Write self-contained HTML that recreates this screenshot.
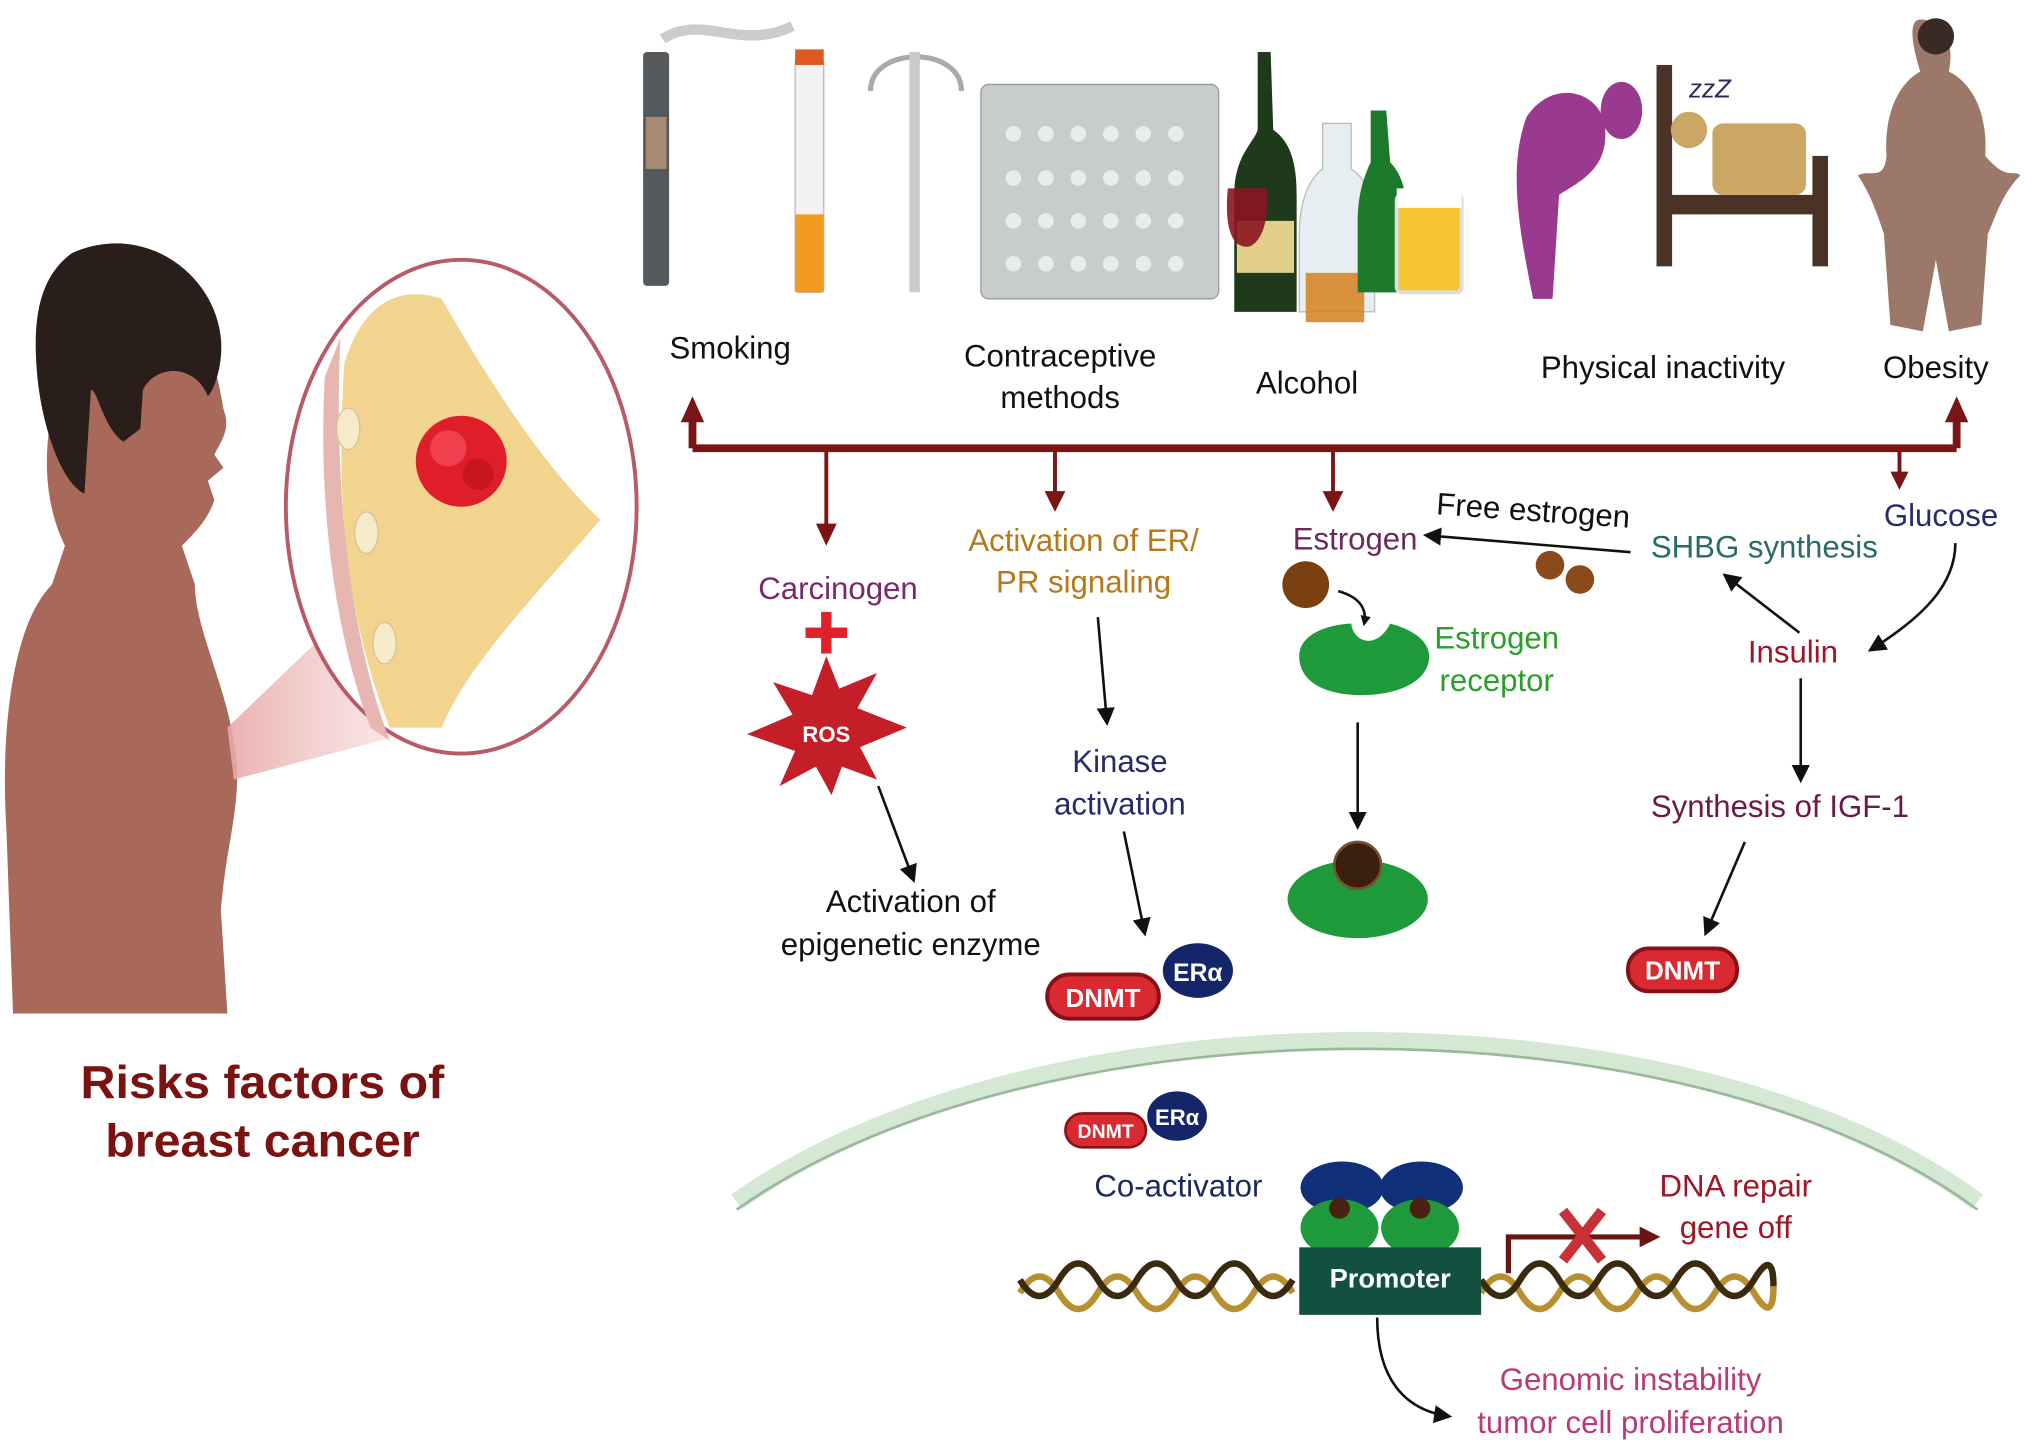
<!DOCTYPE html>
<html><head><meta charset="utf-8"><style>
html,body{margin:0;padding:0;background:#fff;}
svg{display:block;}
text{font-family:"Liberation Sans",sans-serif;}
</style></head><body>
<svg width="2032" height="1450" viewBox="0 0 1564 1116" preserveAspectRatio="none" xmlns="http://www.w3.org/2000/svg">
<defs>
<marker id="ar" markerWidth="8" markerHeight="8" refX="6" refY="4" orient="auto" markerUnits="userSpaceOnUse"><path d="M0,0 L8,4 L0,8 Z" fill="#111"/></marker>
<marker id="ar2" viewBox="0 0 10 10" markerWidth="14" markerHeight="14" refX="8" refY="5" orient="auto" markerUnits="userSpaceOnUse"><path d="M0,0 L10,5 L0,10 Z" fill="#111"/></marker>
<linearGradient id="cone" x1="0" x2="1"><stop offset="0" stop-color="#e9a8a8" stop-opacity="0.9"/><stop offset="1" stop-color="#f6d6d6" stop-opacity="0.4"/></linearGradient>
</defs>
<!-- woman -->
<path d="M60,260 C30,320 30,380 50,420 L40,450 C10,480 0,560 5,640 L10,780 L175,780 L170,700 C175,640 190,610 178,560 C170,520 150,480 150,450 L140,420 C150,410 160,400 165,385 L160,370 L172,360 L165,350 C170,340 178,330 172,315 C168,290 160,260 150,240 Z" fill="#a8695a"/>
<path d="M55,195 C110,170 165,210 170,260 C172,280 165,300 160,305 C150,280 120,280 110,300 L108,330 L95,340 C80,330 75,300 70,300 L65,380 C45,370 30,320 28,280 C25,235 35,210 55,195 Z" fill="#2a1e1a"/>
<path d="M175,560 L300,440 L330,560 L180,600 Z" fill="url(#cone)"/>
<ellipse cx="355" cy="390" rx="135" ry="190" fill="#fff" stroke="#b85a68" stroke-width="3"/>
<path d="M265,280 C260,360 260,460 300,560 L340,560 C360,510 420,450 462,400 C420,360 380,300 340,230 C310,220 280,230 265,280 Z" fill="#f3d48e"/>
<path d="M250,290 L262,260 C258,340 262,470 300,570 L285,560 C255,480 245,380 250,290 Z" fill="#e8b6b0"/>
<ellipse cx="268" cy="330" rx="9" ry="16" fill="#f6eac8" stroke="#d6c29a"/>
<ellipse cx="282" cy="410" rx="9" ry="16" fill="#f6eac8" stroke="#d6c29a"/>
<ellipse cx="296" cy="495" rx="9" ry="16" fill="#f6eac8" stroke="#d6c29a"/>
<circle cx="355" cy="355" r="35" fill="#e01e2a"/>
<circle cx="345" cy="345" r="14" fill="#f04050"/><circle cx="368" cy="365" r="12" fill="#c81520"/>
<text x="202" y="845" font-size="36" font-weight="bold" fill="#7a1212" text-anchor="middle" textLength="280" lengthAdjust="spacingAndGlyphs">Risks factors of</text>
<text x="202" y="890" font-size="36" font-weight="bold" fill="#7a1212" text-anchor="middle" textLength="242" lengthAdjust="spacingAndGlyphs">breast cancer</text>
<!-- top icons -->
<rect x="495" y="40" width="20" height="180" rx="3" fill="#55595c"/><rect x="497" y="90" width="16" height="40" fill="#c9a07a" opacity="0.7"/>
<rect x="612" y="45" width="22" height="180" rx="3" fill="#f2f2f2" stroke="#bbb"/><rect x="612" y="165" width="22" height="60" fill="#f39a22"/><rect x="612" y="38" width="22" height="12" fill="#e05a20"/>
<path d="M510,30 C540,10 570,40 610,20" stroke="#ccc" stroke-width="8" fill="none"/>
<path d="M670,70 C670,35 740,35 740,70" stroke="#aaa" stroke-width="4" fill="none"/><rect x="700" y="40" width="8" height="185" fill="#c8cacc"/>
<rect x="755" y="65" width="183" height="165" rx="6" fill="#c7cccd" stroke="#999"/>
<g fill="#e8ecec">
<circle cx="780" cy="103" r="6"/><circle cx="805" cy="103" r="6"/><circle cx="830" cy="103" r="6"/><circle cx="855" cy="103" r="6"/><circle cx="880" cy="103" r="6"/><circle cx="905" cy="103" r="6"/>
<circle cx="780" cy="137" r="6"/><circle cx="805" cy="137" r="6"/><circle cx="830" cy="137" r="6"/><circle cx="855" cy="137" r="6"/><circle cx="880" cy="137" r="6"/><circle cx="905" cy="137" r="6"/>
<circle cx="780" cy="170" r="6"/><circle cx="805" cy="170" r="6"/><circle cx="830" cy="170" r="6"/><circle cx="855" cy="170" r="6"/><circle cx="880" cy="170" r="6"/><circle cx="905" cy="170" r="6"/>
<circle cx="780" cy="203" r="6"/><circle cx="805" cy="203" r="6"/><circle cx="830" cy="203" r="6"/><circle cx="855" cy="203" r="6"/><circle cx="880" cy="203" r="6"/><circle cx="905" cy="203" r="6"/>
</g>
<path d="M968,40 L978,40 L980,100 C995,110 998,130 998,150 L998,240 L950,240 L950,150 C950,120 965,110 968,100 Z" fill="#1e3a1a"/>
<rect x="952" y="170" width="44" height="40" fill="#e2d08a"/>
<path d="M945,145 L975,145 C978,180 965,190 960,190 C950,190 942,180 945,145 Z" fill="#8a1520" opacity="0.9"/>
<path d="M1018,95 L1040,95 L1040,130 C1055,140 1058,160 1058,180 L1058,240 L1000,240 L1000,180 C1000,160 1005,140 1018,130 Z" fill="#e6eef2" stroke="#bbb"/>
<rect x="1005" y="210" width="45" height="38" fill="#d6801e" opacity="0.85"/>
<path d="M1055,85 L1067,85 L1070,125 C1080,135 1083,150 1083,170 L1083,225 L1045,225 L1045,170 C1045,150 1050,135 1055,125 Z" fill="#1d7a2c"/>
<rect x="1075" y="150" width="50" height="75" rx="4" fill="#f7c531" stroke="#ddd" stroke-width="3"/><rect x="1075" y="145" width="50" height="15" fill="#fff"/>
<path d="M1175,90 C1195,60 1230,70 1235,95 C1240,130 1215,140 1200,150 L1195,230 L1180,230 C1170,180 1160,130 1175,90 Z" fill="#9a3a8e"/>
<ellipse cx="1248" cy="85" rx="16" ry="22" fill="#9a3a8e"/>
<rect x="1275" y="50" width="12" height="155" fill="#4a3226"/><rect x="1395" y="120" width="12" height="85" fill="#4a3226"/>
<rect x="1285" y="150" width="115" height="15" fill="#4a3226"/><rect x="1318" y="95" width="72" height="55" rx="8" fill="#cba766"/><circle cx="1300" cy="100" r="14" fill="#cba766"/>
<text x="1300" y="75" font-size="20" fill="#2a2a5a" font-style="italic">zzZ</text>
<path d="M1478,15 C1495,15 1505,30 1500,55 C1520,65 1530,90 1528,120 C1545,140 1550,130 1555,135 C1540,150 1535,170 1530,180 L1525,250 L1500,255 L1490,200 L1480,255 L1455,250 L1450,180 C1445,165 1440,150 1430,135 C1440,130 1450,140 1452,120 C1450,90 1460,65 1478,55 C1470,30 1470,15 1478,15 Z" fill="#9c7868"/>
<circle cx="1490" cy="28" r="14" fill="#3a2a25"/>
<g font-size="24" fill="#111" text-anchor="middle">
<text x="562" y="276">Smoking</text>
<text x="816" y="282">Contraceptive</text><text x="816" y="314">methods</text>
<text x="1006" y="303">Alcohol</text>
<text x="1280" y="291">Physical inactivity</text>
<text x="1490" y="291">Obesity</text>
</g>
<!-- bar -->
<g stroke="#7a1515" stroke-width="6" fill="#7a1515">
<line x1="533" y1="345" x2="1506" y2="345"/>
<line x1="533" y1="345" x2="533" y2="322"/><line x1="1506" y1="345" x2="1506" y2="322"/>
<line x1="636" y1="345" x2="636" y2="405" stroke-width="3"/><line x1="812" y1="345" x2="812" y2="380" stroke-width="3"/>
<line x1="1026" y1="345" x2="1026" y2="380" stroke-width="3"/><line x1="1462" y1="345" x2="1462" y2="365" stroke-width="3"/>
</g>
<g fill="#7a1515">
<path d="M524,325 L533,305 L542,325 Z"/><path d="M1497,325 L1506,305 L1515,325 Z"/>
<path d="M628,403 L636,420 L644,403 Z"/><path d="M804,378 L812,394 L820,378 Z"/><path d="M1018,378 L1026,394 L1034,378 Z"/><path d="M1455,363 L1462,377 L1469,363 Z"/>
</g>
<!-- column 1 -->
<text x="645" y="461" font-size="24" fill="#7a2a6a" text-anchor="middle">Carcinogen</text>
<rect x="620" y="483" width="32" height="8" fill="#e0202a"/><rect x="632" y="471" width="8" height="32" fill="#e0202a"/>
<path d="M636,505 L646,530 L675,518 L660,545 L698,560 L662,575 L675,600 L648,590 L640,612 L628,590 L600,605 L612,578 L575,565 L610,550 L595,525 L625,535 Z" fill="#c41e28"/>
<text x="636" y="571" font-size="17" font-weight="bold" fill="#fff" text-anchor="middle">ROS</text>
<path d="M676,605 L703,677" stroke="#111" stroke-width="2" fill="none" marker-end="url(#ar2)"/>
<text x="701" y="702" font-size="24" fill="#111" text-anchor="middle">Activation of</text>
<text x="701" y="735" font-size="24" fill="#111" text-anchor="middle">epigenetic enzyme</text>
<!-- column 2 -->
<text x="834" y="424" font-size="24" fill="#b5781a" text-anchor="middle">Activation of ER/</text>
<text x="834" y="456" font-size="24" fill="#b5781a" text-anchor="middle">PR signaling</text>
<path d="M845,475 L852,556" stroke="#111" stroke-width="2" fill="none" marker-end="url(#ar2)"/>
<text x="862" y="594" font-size="24" fill="#2a2a6a" text-anchor="middle">Kinase</text>
<text x="862" y="627" font-size="24" fill="#2a2a6a" text-anchor="middle">activation</text>
<path d="M865,640 L881,718" stroke="#111" stroke-width="2" fill="none" marker-end="url(#ar2)"/>
<rect x="806" y="750" width="86" height="34" rx="17" fill="#d82a30" stroke="#8a1018" stroke-width="3"/>
<text x="849" y="775" font-size="20" font-weight="bold" fill="#fff" text-anchor="middle">DNMT</text>
<ellipse cx="922" cy="747" rx="27" ry="21" fill="#15256a"/><text x="922" y="755" font-size="19" font-weight="bold" fill="#fff" text-anchor="middle">ERα</text>
<!-- column 3 -->
<text x="1043" y="423" font-size="24" fill="#6a2a5a" text-anchor="middle">Estrogen</text>
<text x="1180" y="401" font-size="24" fill="#111" text-anchor="middle" transform="rotate(4 1180 395)">Free estrogen</text>
<path d="M1255,425 L1098,412" stroke="#111" stroke-width="2" fill="none" marker-end="url(#ar2)"/>
<circle cx="1193" cy="435" r="11" fill="#8a4a1a"/><circle cx="1216" cy="446" r="11" fill="#8a4a1a"/>
<circle cx="1005" cy="450" r="18" fill="#7a4010"/>
<path d="M1030,455 C1048,460 1052,470 1050,480" stroke="#111" stroke-width="2" fill="none" marker-end="url(#ar)"/>
<path d="M1000,505 C1000,485 1030,480 1040,480 C1042,495 1060,500 1070,480 C1090,485 1100,495 1100,505 C1100,525 1075,535 1048,535 C1020,535 1000,525 1000,505 Z" fill="#1f9a3a"/>
<text x="1152" y="499" font-size="24" fill="#2aa02a" text-anchor="middle">Estrogen</text>
<text x="1152" y="532" font-size="24" fill="#2aa02a" text-anchor="middle">receptor</text>
<path d="M1045,556 L1045,636" stroke="#111" stroke-width="2" fill="none" marker-end="url(#ar2)"/>
<ellipse cx="1045" cy="692" rx="54" ry="30" fill="#1f9a3a"/><path d="M1000,680 C1010,660 1080,660 1090,680" fill="#1f9a3a"/>
<circle cx="1045" cy="666" r="18" fill="#3a2010" stroke="#7a5030" stroke-width="2"/>
<!-- column 4 -->
<text x="1494" y="405" font-size="24" fill="#2a2a6a" text-anchor="middle">Glucose</text>
<text x="1358" y="429" font-size="24" fill="#2a6a6a" text-anchor="middle">SHBG synthesis</text>
<path d="M1505,418 C1505,450 1480,475 1440,500" stroke="#111" stroke-width="2" fill="none" marker-end="url(#ar2)"/>
<path d="M1385,487 L1328,443" stroke="#111" stroke-width="2" fill="none" marker-end="url(#ar2)"/>
<text x="1380" y="510" font-size="24" fill="#a01528" text-anchor="middle">Insulin</text>
<path d="M1386,522 L1386,600" stroke="#111" stroke-width="2" fill="none" marker-end="url(#ar2)"/>
<text x="1370" y="629" font-size="24" fill="#6a1a4a" text-anchor="middle">Synthesis of IGF-1</text>
<path d="M1343,648 L1313,718" stroke="#111" stroke-width="2" fill="none" marker-end="url(#ar2)"/>
<rect x="1253" y="730" width="84" height="33" rx="16" fill="#d82a30" stroke="#8a1018" stroke-width="3"/>
<text x="1295" y="754" font-size="20" font-weight="bold" fill="#fff" text-anchor="middle">DNMT</text>
<!-- nucleus -->
<path d="M567,925 C800,760 1300,760 1522,925" stroke="#d4e8d4" stroke-width="14" fill="none"/>
<path d="M567,925 C800,760 1300,760 1522,925" stroke="#9ab89a" stroke-width="2" fill="none" transform="translate(0,6)"/>
<rect x="820" y="857" width="62" height="26" rx="13" fill="#d82a30" stroke="#8a1018" stroke-width="2"/>
<text x="851" y="876" font-size="15" font-weight="bold" fill="#fff" text-anchor="middle">DNMT</text>
<ellipse cx="906" cy="859" rx="23" ry="19" fill="#15256a"/><text x="906" y="866" font-size="17" font-weight="bold" fill="#fff" text-anchor="middle">ERα</text>
<text x="907" y="921" font-size="24" fill="#1a2a5a" text-anchor="middle">Co-activator</text>
<ellipse cx="1033" cy="914" rx="32" ry="20" fill="#10307a"/><ellipse cx="1094" cy="914" rx="32" ry="20" fill="#10307a"/>
<ellipse cx="1031" cy="945" rx="30" ry="22" fill="#1f9a3a"/><ellipse cx="1093" cy="945" rx="30" ry="22" fill="#1f9a3a"/>
<circle cx="1031" cy="930" r="8" fill="#4a2010"/><circle cx="1093" cy="930" r="8" fill="#4a2010"/>
<path d="M785,995 Q800,970 815,995 T845,995 T875,995 T905,995 T935,995 T965,995 T995,995" stroke="#b89030" stroke-width="5" fill="none"/>
<path d="M785,985 Q800,1010 815,985 T845,985 T875,985 T905,985 T935,985 T965,985 T995,985" stroke="#3a2a10" stroke-width="5" fill="none"/>
<path d="M1140,995 Q1155,970 1170,995 T1200,995 T1230,995 T1260,995 T1290,995 T1320,995 T1350,995 T1365,990" stroke="#b89030" stroke-width="5" fill="none"/>
<path d="M1140,985 Q1155,1010 1170,985 T1200,985 T1230,985 T1260,985 T1290,985 T1320,985 T1350,985 T1365,990" stroke="#3a2a10" stroke-width="5" fill="none"/>
<rect x="1000" y="960" width="140" height="52" fill="#125040"/>
<text x="1070" y="991" font-size="21" font-weight="bold" fill="#fff" text-anchor="middle">Promoter</text>
<path d="M1161,980 L1161,952 L1265,952" stroke="#6a1515" stroke-width="4" fill="none"/>
<path d="M1262,944 L1278,952 L1262,960 Z" fill="#6a1515"/>
<path d="M1203,932 L1233,970 M1233,932 L1203,970" stroke="#c83038" stroke-width="8"/>
<text x="1336" y="921" font-size="24" fill="#a01528" text-anchor="middle">DNA repair</text>
<text x="1336" y="953" font-size="24" fill="#a01528" text-anchor="middle">gene off</text>
<path d="M1060,1014 C1060,1060 1080,1085 1115,1090" stroke="#111" stroke-width="2" fill="none" marker-end="url(#ar2)"/>
<text x="1255" y="1070" font-size="24" fill="#b83a7a" text-anchor="middle">Genomic instability</text>
<text x="1255" y="1103" font-size="24" fill="#b83a7a" text-anchor="middle">tumor cell proliferation</text>
</svg>
</body></html>
